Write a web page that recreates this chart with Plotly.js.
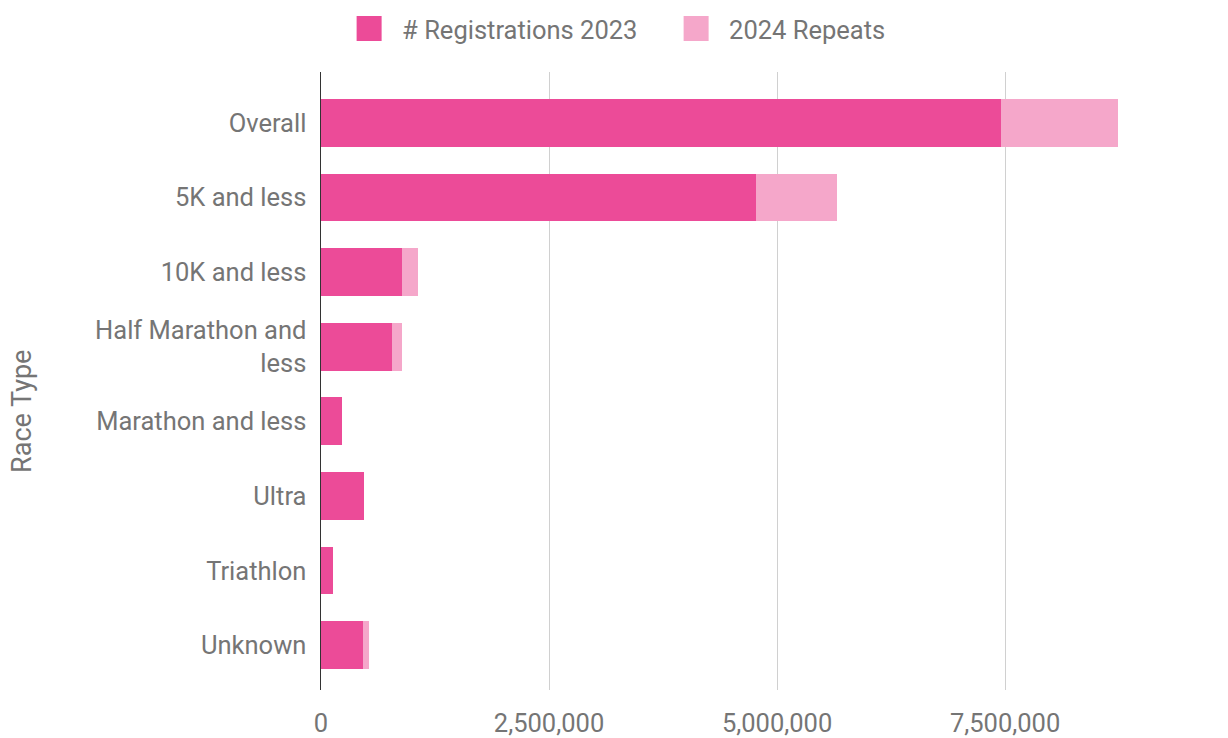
<!DOCTYPE html>
<html>
<head>
<meta charset="utf-8">
<script src="https://cdn.plot.ly/plotly-3.0.1.min.js"></script>
<style>html,body{margin:0;padding:0;background:#fff;}#chart{width:1228px;height:738px;}</style>
</head>
<body>
<div id="chart"></div>
<script>
const categories = ["Overall", "5K and less", "10K and less", "Half Marathon and<br>less", "Marathon and less", "Ultra", "Triathlon", "Unknown"];
const registrations2023 = [7460000, 4770000, 890000, 780000, 230000, 470000, 135000, 460000];
const repeats2024 = [1280000, 890000, 170000, 110000, 0, 0, 0, 70000];
const xTickVals = [0, 2500000, 5000000, 7500000];
const xTickText = ["0", "2,500,000", "5,000,000", "7,500,000"];

const fontFamily = "Roboto, 'Noto Sans', sans-serif";
const textColor = "#757575";
const fs = 25.5;

const traces = [
  {type: "bar", orientation: "h", name: "# Registrations 2023", y: categories, x: registrations2023,
   marker: {color: "#ec4b98"}, hoverinfo: "x+y"},
  {type: "bar", orientation: "h", name: "2024 Repeats", y: categories, x: repeats2024,
   marker: {color: "#f5a7ca"}, hoverinfo: "x+y"}
];

const layout = {
  width: 1228, height: 738,
  barmode: "stack",
  bargap: 0.36,
  paper_bgcolor: "#fff", plot_bgcolor: "#fff",
  margin: {l: 321, r: 0, t: 72, b: 48},
  font: {family: fontFamily, color: textColor, size: fs},
  showlegend: true,
  legend: {orientation: "h", x: 0.031, xanchor: "left", y: 1.0696, yanchor: "middle", yref: "paper",
           font: {size: fs, color: textColor}, traceorder: "normal", itemwidth: 30,
           entrywidth: 282, entrywidthmode: "pixels",
           bgcolor: "rgba(0,0,0,0)"},
  xaxis: {range: [0, 9944000], tickvals: xTickVals, ticktext: xTickText,
          showgrid: true, gridcolor: "#d0d0d0", gridwidth: 1, zeroline: false,
          showline: false, ticks: "", tickfont: {size: fs, color: textColor}, ticklabelstandoff: 15},
  yaxis: {type: "category", range: [7.6, -0.68], showgrid: false, zeroline: false,
          showline: true, linecolor: "#333", linewidth: 1.5, ticks: "",
          tickfont: {size: fs, color: textColor}, ticklabelstandoff: 8},
  annotations: [
    {text: "Race Type", textangle: -90, xref: "paper", yref: "paper",
     x: -0.3297, y: 0.4515, xanchor: "center", yanchor: "middle", showarrow: false,
     font: {size: 27, color: textColor}}
  ]
};

Plotly.newPlot("chart", traces, layout, {displayModeBar: false, staticPlot: true}).then(function (gd) {
  // enlarge the legend swatches (same centre) and move the labels right to match the reference spacing
  gd.querySelectorAll(".legend .legendpoints path").forEach(function (p) {
    p.setAttribute("d", "M12.5,12.5H-12.5V-12.5H12.5Z");
  });
  gd.querySelectorAll(".legend .legendtext").forEach(function (t) {
    t.setAttribute("x", "53");
  });
});
</script>
</body>
</html>
